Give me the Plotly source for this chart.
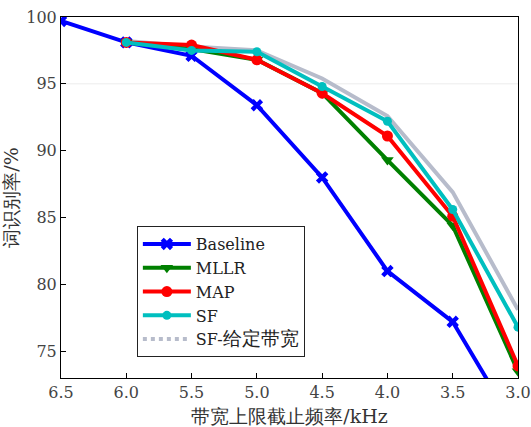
import plotly.graph_objects as go

bandwidth = [6.5, 6.0, 5.5, 5.0, 4.5, 4.0, 3.5, 3.0]
bw_adapt = [6.0, 5.5, 5.0, 4.5, 4.0, 3.5, 3.0]
baseline = [99.7, 98.1, 97.1, 93.4, 88.0, 81.0, 77.2, 69.0]
mllr = [98.1, 97.6, 96.8, 94.3, 89.3, 84.4, 73.5]
map_ = [98.1, 97.9, 96.8, 94.3, 91.1, 85.1, 73.9]
sf = [98.1, 97.5, 97.4, 94.8, 92.2, 85.6, 76.8]
sf_given = [98.2, 97.8, 97.5, 95.4, 92.6, 86.9, 78.1]

x_ticks = [6.5, 6.0, 5.5, 5.0, 4.5, 4.0, 3.5, 3.0]
y_ticks = [75, 80, 85, 90, 95, 100]

serif = "DejaVu Serif"

fig = go.Figure()
fig.add_trace(go.Scatter(x=bw_adapt, y=sf_given, name="SF-给定带宽", mode="lines",
                         line=dict(color="#b7bccb", width=4, dash="solid"), showlegend=False))
fig.add_trace(go.Scatter(x=bandwidth, y=baseline, name="Baseline", mode="lines+markers",
                         line=dict(color="#0000ff", width=4),
                         marker=dict(symbol="x", size=11, color="#0000ff")))
fig.add_trace(go.Scatter(x=bw_adapt, y=mllr, name="MLLR", mode="lines+markers",
                         line=dict(color="#008000", width=4),
                         marker=dict(symbol="triangle-down", size=11, color="#008000")))
fig.add_trace(go.Scatter(x=bw_adapt, y=map_, name="MAP", mode="lines+markers",
                         line=dict(color="#ff0000", width=4),
                         marker=dict(symbol="circle", size=11, color="#ff0000")))
fig.add_trace(go.Scatter(x=bw_adapt, y=sf, name="SF", mode="lines+markers",
                         line=dict(color="#00bfbf", width=4),
                         marker=dict(symbol="circle", size=9, color="#00bfbf")))
fig.add_trace(go.Scatter(x=[None], y=[None],
                         name="SF-<span style='font-size:19px'>给定带宽</span>", mode="lines",
                         line=dict(color="#b7bccb", width=4, dash="dot")))

fig.add_shape(type="line", xref="paper", x0=0, x1=1, yref="y", y0=95, y1=95,
              line=dict(color="#ececec", width=1), layer="below")

fig.update_layout(
    width=531, height=427,
    margin=dict(l=61, r=13, t=17, b=49, autoexpand=False),
    paper_bgcolor="white", plot_bgcolor="white",
    font=dict(family=serif, size=16, color="#333333"),
    showlegend=True,
    legend=dict(x=0.166, y=0.421, xanchor="left", yanchor="top",
                bordercolor="#222222", borderwidth=1, bgcolor="white",
                font=dict(family=serif, size=16, color="#222222"),
                tracegroupgap=0, itemwidth=48),
    xaxis=dict(range=[6.5, 3.0], tickvals=x_ticks, ticktext=[f"{v:.1f}" for v in x_ticks],
               ticks="inside", ticklen=5, tickcolor="black", showline=True, linecolor="black",
               linewidth=1, mirror=True, showgrid=False, zeroline=False, automargin=False,
               tickfont=dict(family=serif, size=16, color="#444444"),
               title=dict(text="带宽上限截止频率/kHz", font=dict(family=serif, size=19, color="#333333"),
                          standoff=11)),
    yaxis=dict(range=[73, 100], tickvals=y_ticks, ticks="inside", ticklen=5, tickcolor="black",
               showline=True, linecolor="black", linewidth=1, mirror=True, showgrid=False,
               zeroline=False, automargin=False, tickfont=dict(family=serif, size=16, color="#444444"),
               title=dict(text="词识别率/%", font=dict(family=serif, size=19, color="#333333"),
                          standoff=3)),
)

fig.write_html("out.html")
